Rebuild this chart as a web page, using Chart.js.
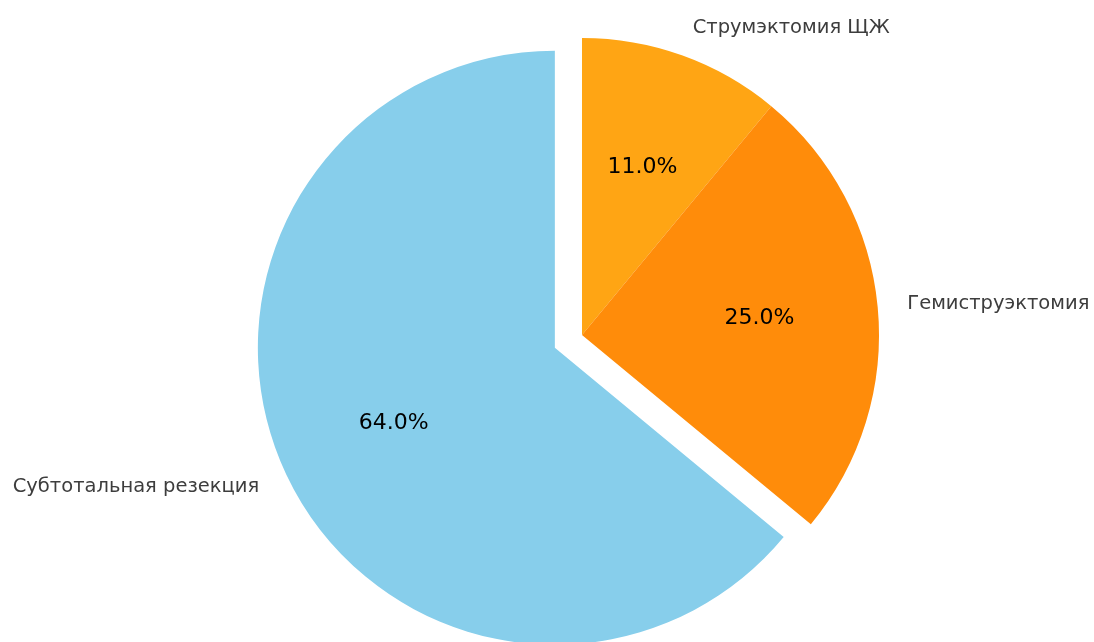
<!DOCTYPE html>
<html>
<head>
<meta charset="utf-8">
<script src="https://cdn.jsdelivr.net/npm/chart.js@4.4.1/dist/chart.umd.min.js"></script>
<style>
    html, body { margin: 0; padding: 0; background: #fff; }
    .chart-box { width: 1094px; height: 642px; position: relative; }
</style>
</head>
<body>
<div class="chart-box"><canvas id="surgeryChart"></canvas></div>
<script>
// ====== ДАННЫЕ ======
const categories = ["Струмэктомия ЩЖ", "Гемиструэктомия", "Субтотальная резекция"];
const shares = [11, 25, 64];

// ====== ОФОРМЛЕНИЕ ======
const sliceColors = ["#FFA514", "#FF8C0A", "#87CEEB"];
const PIE_RADIUS = 297;
const explodePx = [0, 0, 30]; // вынос сектора от центра, px

// Встроенный offset у Chart.js ещё и подрезает углы сектора,
// поэтому выносим сектор простым сдвигом при отрисовке
const explodeSlices = {
    id: "explodeSlices",
    afterUpdate(chart) {
        chart.getDatasetMeta(0).data.forEach((arc, i) => {
            if (!explodePx[i] || arc._exploded) return;
            const baseDraw = arc.draw;
            arc.draw = function (ctx) {
                const mid = (this.startAngle + this.endAngle) / 2;
                ctx.save();
                ctx.translate(Math.cos(mid) * explodePx[i], Math.sin(mid) * explodePx[i]);
                baseDraw.call(this, ctx);
                ctx.restore();
            };
            arc._exploded = true;
        });
    }
};

// ====== ПОДПИСИ СЕКТОРОВ ======
const pieLabels = {
    id: "pieLabels",
    afterDatasetsDraw(chart) {
        const ctx = chart.ctx;
        const meta = chart.getDatasetMeta(0);
        const total = shares.reduce((a, b) => a + b, 0);
        ctx.save();
        ctx.textBaseline = "middle";
        meta.data.forEach((arc, i) => {
            const { x, y, startAngle, endAngle, outerRadius } = arc.getProps(["x", "y", "startAngle", "endAngle", "outerRadius"], true);
            const mid = (startAngle + endAngle) / 2;
            const cx = x + Math.cos(mid) * explodePx[i];
            const cy = y + Math.sin(mid) * explodePx[i];

            // название категории снаружи
            const lx = cx + Math.cos(mid) * outerRadius * 1.1;
            const ly = cy + Math.sin(mid) * outerRadius * 1.1;
            ctx.font = "19.5px 'DejaVu Sans'";
            ctx.fillStyle = "#3d3d3d";
            ctx.textAlign = Math.cos(mid) >= 0 ? "left" : "right";
            ctx.fillText(categories[i], lx, ly);

            // процент внутри
            const px = cx + Math.cos(mid) * outerRadius * 0.6;
            const py = cy + Math.sin(mid) * outerRadius * 0.6;
            ctx.font = "22px 'DejaVu Sans'";
            ctx.fillStyle = "#000";
            ctx.textAlign = "center";
            ctx.fillText((shares[i] / total * 100).toFixed(1) + "%", px, py);
        });
        ctx.restore();
    }
};

// ====== ГРАФИК ======
document.addEventListener("DOMContentLoaded", () => {
    new Chart(document.getElementById("surgeryChart"), {
        type: "pie",
        data: {
            labels: categories,
            datasets: [{
                data: shares,
                backgroundColor: sliceColors,
                borderWidth: 0,
                offset: 0,
                hoverOffset: 0,
                radius: PIE_RADIUS
            }]
        },
        options: {
            responsive: true,
            maintainAspectRatio: false,
            animation: false,
            radius: PIE_RADIUS,
            layout: { padding: { left: 70, top: 28, right: 0, bottom: 0 } },
            plugins: {
                legend: { display: false },
                tooltip: { enabled: false }
            }
        },
        plugins: [explodeSlices, pieLabels]
    });
});
</script>
</body>
</html>
